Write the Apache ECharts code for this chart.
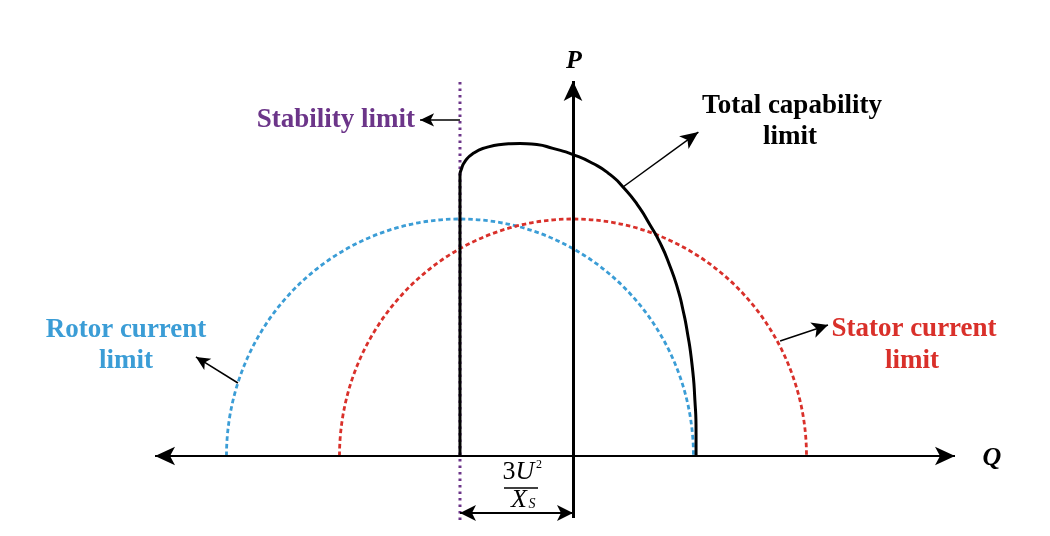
<!DOCTYPE html>
<html>
<head>
<meta charset="utf-8">
<script src="https://cdn.jsdelivr.net/npm/echarts@6/dist/echarts.min.js"></script>
<style>
html,body{margin:0;padding:0;background:#fff;}
#chart{width:1050px;height:536px;}
</style>
</head>
<body>
<div id="chart"></div>
<script>
// ---- data (Q, P in per-unit; stator radius = 1) ----
const stabilityQ = -0.484;              // -3U^2/Xs
const rotorCircle = [[-0.484, 0, 1.0]];  // [centerQ, centerP, radius]
const statorCircle = [[0, 0, 1.0]];
const capabilityVertical = [[-0.484, 0], [-0.484, 1.19]];
const capabilityCurve = [
  [-0.484, 1.190], [-0.480, 1.205], [-0.463, 1.242], [-0.427, 1.277],
  [-0.370, 1.302], [-0.299, 1.315], [-0.227, 1.319], [-0.155, 1.314],
  [-0.086, 1.298], [0, 1.272], [0.086, 1.234], [0.158, 1.188],
  [0.214, 1.135], [0.274, 1.063], [0.330, 0.975], [0.373, 0.899],
  [0.415, 0.802], [0.450, 0.700], [0.471, 0.616], [0.488, 0.532],
  [0.510, 0.384], [0.522, 0.236], [0.527, 0.097], [0.527, 0]
];
const qAxisEnds = [[-1.790, 0], [1.636, 0]];
const pAxisEnds = [[0, -0.262], [0, 1.582]];
const stabilityEnds = [[stabilityQ, -0.270], [stabilityQ, 1.578]];
const dimensionEnds = [[stabilityQ, -0.241], [0, -0.241]];
const pointerStability = [[stabilityQ, 1.418], [-0.655, 1.418]];
const pointerTotal = [[0.214, 1.135], [0.537, 1.367]];
const pointerRotor = [[-1.435, 0.308], [-1.615, 0.418]];
const pointerStator = [[0.887, 0.485], [1.092, 0.553]];
const labels = {
  stability: 'Stability limit',
  total: ['Total capability', 'limit'],
  rotor: ['Rotor current', 'limit'],
  stator: ['Stator current', 'limit'],
  p: 'P', q: 'Q'
};

const BLUE = '#3b9dd6', RED = '#d9302a', PURPLE = '#6c3589';
const SERIF = '"Liberation Serif","Times New Roman",serif';

function circleSeries(data, color) {
  return {
    type: 'custom', data: data, encode: {x: 0, y: 1}, silent: true, z: 2,
    renderItem: function (params, api) {
      const c = api.coord([api.value(0), api.value(1)]);
      const rx = api.size([api.value(2), 0])[0];
      const ry = api.size([0, api.value(2)])[1];
      return {
        type: 'arc', x: c[0], y: c[1], scaleY: ry / rx,
        shape: {cx: 0, cy: 0, r: rx, startAngle: Math.PI, endAngle: 2 * Math.PI, clockwise: true},
        style: {stroke: color, fill: 'none', lineWidth: 2.8, lineDash: [4.5, 3], strokeNoScale: true}
      };
    }
  };
}

function seg(ends, sym0, sym1, width, size) {
  return [
    {coord: ends[0], symbol: sym0, symbolSize: size, lineStyle: {width: width}},
    {coord: ends[1], symbol: sym1, symbolSize: size}
  ];
}

const chart = echarts.init(document.getElementById('chart'), null, {renderer: 'canvas'});

function txt(text, x, y, color, size, style, align) {
  return {
    type: 'text', z: 100, silent: true,
    style: {
      text: text, x: x, y: y, fill: color,
      font: (style || 'bold') + ' ' + size + 'px ' + SERIF,
      textAlign: align || 'center', align: align || 'center',
      textVerticalAlign: 'middle', verticalAlign: 'middle'
    }
  };
}

chart.setOption({
  animation: false,
  backgroundColor: '#fff',
  grid: {left: 12.6, right: 10, top: 5.7, bottom: 8.9},
  xAxis: {type: 'value', min: -2.4, max: 2.0, show: false},
  yAxis: {type: 'value', min: -0.3, max: 1.9, show: false},
  series: [
    circleSeries(rotorCircle, BLUE),
    circleSeries(statorCircle, RED),
    {
      type: 'line', data: stabilityEnds, symbol: 'none', silent: true, z: 3,
      lineStyle: {color: PURPLE, width: 3, type: [2.5, 4]}
    },
    {
      type: 'line', data: capabilityVertical, symbol: 'none', silent: true, z: 4,
      lineStyle: {color: '#000', width: 3}
    },
    {
      type: 'line', data: capabilityCurve, symbol: 'none', smooth: 0.6, silent: true, z: 4,
      lineStyle: {color: '#000', width: 3}
    },
    {
      type: 'line', data: [], silent: true, z: 5,
      markLine: {
        silent: true, animation: false,
        label: {show: false},
        lineStyle: {color: '#000', type: 'solid', width: 1.5},
        data: [
          seg(qAxisEnds, 'arrow', 'arrow', 2, [14, 20]),
          seg(pAxisEnds, 'none', 'arrow', 3, [14, 20]),
          seg(dimensionEnds, 'arrow', 'arrow', 2, [12, 16]),
          seg(pointerStability, 'none', 'arrow', 1.5, [10, 14]),
          seg(pointerTotal, 'none', 'arrow', 1.5, [12, 18]),
          seg(pointerRotor, 'none', 'arrow', 1.5, [10, 14]),
          seg(pointerStator, 'none', 'arrow', 1.5, [12, 16])
        ]
      }
    }
  ],
  graphic: [
    txt(labels.stability, 415, 120, PURPLE, 27, 'bold', 'right'),
    txt(labels.total[0], 792, 106, '#000', 27),
    txt(labels.total[1], 790, 137, '#000', 27),
    txt(labels.rotor[0], 126, 330, BLUE, 27),
    txt(labels.rotor[1], 126, 361, BLUE, 27),
    txt(labels.stator[0], 914, 329, RED, 27),
    txt(labels.stator[1], 912, 361, RED, 27),
    txt(labels.p, 574, 61, '#000', 26, 'italic bold'),
    txt(labels.q, 992, 458, '#000', 26, 'italic bold'),
    // fraction 3U^2 / X_S
    txt('3', 509, 472, '#000', 26, 'normal'),
    txt('U', 525, 472, '#000', 26, 'italic'),
    txt('2', 539, 465, '#000', 12, 'normal'),
    {type: 'line', silent: true, z: 100, shape: {x1: 504, y1: 488, x2: 538, y2: 488}, style: {stroke: '#000', lineWidth: 1.5}},
    txt('X', 519, 500, '#000', 26, 'italic'),
    txt('S', 532, 504, '#000', 14, 'italic')
  ]
});
</script>
</body>
</html>
